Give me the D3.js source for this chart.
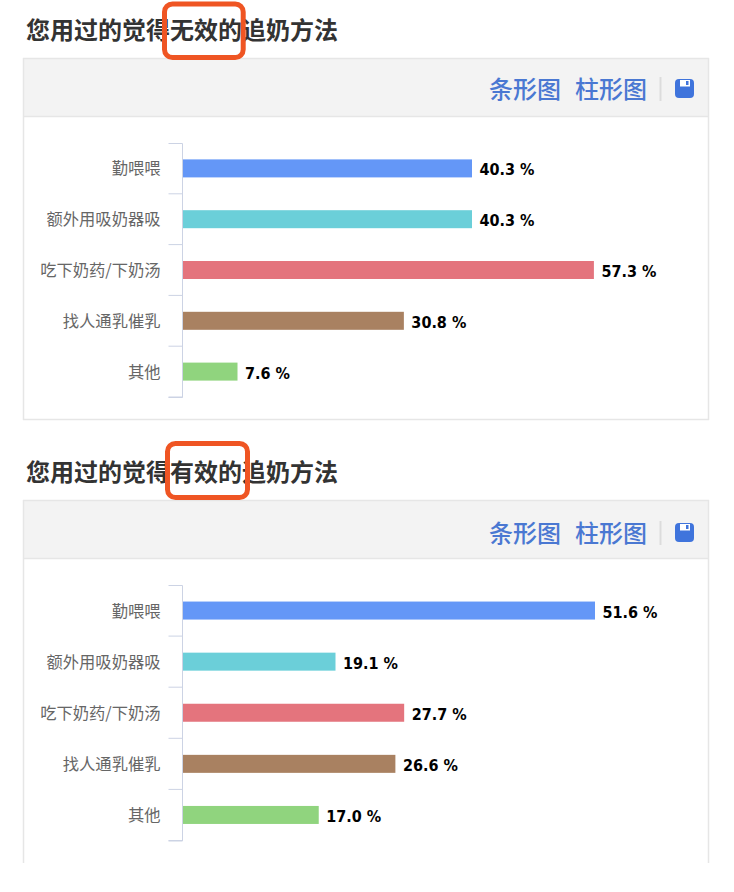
<!DOCTYPE html>
<html><head><meta charset="utf-8">
<script src="https://cdn.jsdelivr.net/npm/d3@7"></script>
<style>html,body{margin:0;padding:0;background:#fff}svg{display:block}</style>
</head><body><svg id="c" width="734" height="892"></svg>
<script>
const categories = ["勤喂喂","额外用吸奶器吸","吃下奶药/下奶汤","找人通乳催乳","其他"];
const colors = ["#6497f7","#6bcfd9","#e4747d","#a98161","#90d47e"];
const ineffectiveValues = [40.3,40.3,57.3,30.8,7.6];
const effectiveValues = [51.6,19.1,27.7,26.6,17.0];
const titlePrefix = "您用过的觉得";
const titleSuffix = "追奶方法";
const toolLabels = ["条形图","柱形图"];
const font = '"Noto Sans CJK SC","Noto Sans",sans-serif';
const latin = '"DejaVu Sans Condensed","DejaVu Sans",sans-serif';
const svg = d3.select("#c");

function panel(o){
  const g = svg.append("g");
  g.append("text").attr("x",26).attr("y",o.titleY).attr("font-family",font).attr("font-size",24)
   .attr("font-weight",600).attr("fill","#333").text(titlePrefix+o.word+titleSuffix);
  g.append("rect").attr("x",23.5).attr("y",o.top+.5).attr("width",685).attr("height",58)
   .attr("fill","#f3f3f3");
  const lines = [[23.5,o.top,23.5,o.bottom],[708.5,o.top,708.5,o.bottom],[23,o.top+.5,709,o.top+.5],[23,o.top+58.5,709,o.top+58.5]];
  if(o.closed) lines.push([23,o.bottom-.5,709,o.bottom-.5]);
  g.selectAll("line.b").data(lines).join("line").attr("class","b")
   .attr("x1",d=>d[0]).attr("y1",d=>d[1]).attr("x2",d=>d[2]).attr("y2",d=>d[3])
   .attr("stroke","#e6e6e6").attr("stroke-width",1.5);
  const ty=o.top+o.toolDy;
  g.selectAll("text.t").data(toolLabels).join("text").attr("class","t")
   .attr("x",(d,i)=>i?647:561).attr("y",ty+39.5).attr("text-anchor","end")
   .attr("font-family",font).attr("font-size",24).attr("font-weight",500).attr("fill","#4a78d2").text(d=>d);
  g.append("line").attr("x1",660.5).attr("x2",660.5).attr("y1",ty+19).attr("y2",ty+43)
   .attr("stroke","#dcdcdc").attr("stroke-width",2);
  const iy=ty+21;
  g.append("rect").attr("x",675).attr("y",iy).attr("width",19).attr("height",19).attr("rx",4).attr("fill","#3f74dc");
  g.append("rect").attr("x",680).attr("y",iy+1).attr("width",10).attr("height",6.5).attr("fill","#fff");
  g.append("rect").attr("x",686).attr("y",iy+2).attr("width",2.5).attr("height",4).attr("fill","#3f74dc");
  const x = d3.scaleLinear().domain([0,o.max]).range([183,o.xEnd]);
  const y = d3.scaleBand().domain(categories).range([o.axisTop,o.axisTop+o.axisH]);
  const axis = d3.axisLeft(y).tickSize(14).tickSizeOuter(0);
  const ag = g.append("g").attr("transform","translate(182.5,0)").call(axis);
  ag.select(".domain").attr("stroke","#ccd3e4").attr("d",`M-14,${o.axisTop+.5}H0V${o.axisTop+o.axisH+.5}H-14`);
  ag.selectAll(".tick line").attr("stroke","#ccd3e4")
    .attr("transform",`translate(0,${y.bandwidth()/2})`);
  ag.selectAll(".tick text").attr("x",-22).attr("dy","0.37em").attr("font-family",font)
    .attr("font-size",16.3).attr("fill","#666");
  const bh=18;
  g.selectAll("rect.bar").data(o.values).join("rect").attr("class","bar")
   .attr("x",x(0)).attr("y",(d,i)=>y(categories[i])+y.bandwidth()/2-bh/2)
   .attr("width",d=>x(d)-x(0)).attr("height",bh).attr("fill",(d,i)=>colors[i]);
  g.selectAll("text.v").data(o.values).join("text").attr("class","v")
   .attr("x",d=>x(d)+7.5).attr("y",(d,i)=>y(categories[i])+y.bandwidth()/2+7)
   .attr("font-family",latin).attr("font-size",16).attr("font-weight",700).attr("fill","#000")
   .text(d=>d.toFixed(1)+" %");
  g.append("rect").attr("x",o.hx).attr("y",o.hy).attr("width",o.hw).attr("height",o.hh).attr("rx",8)
   .attr("fill","none").attr("stroke","#ef5523").attr("stroke-width",5);
}
panel({word:"无效的",titleY:39,top:58,bottom:420,closed:true,axisTop:143,axisH:254,toolDy:0,values:ineffectiveValues,max:57.3,xEnd:593.9,
  hx:164.5,hy:4,hw:78.7,hh:53.5});
panel({word:"有效的",titleY:481,top:500,bottom:863,closed:false,axisTop:585,axisH:255.5,toolDy:2,values:effectiveValues,max:51.6,xEnd:595,
  hx:167.5,hy:443.5,hw:80,hh:54});
</script></body></html>
